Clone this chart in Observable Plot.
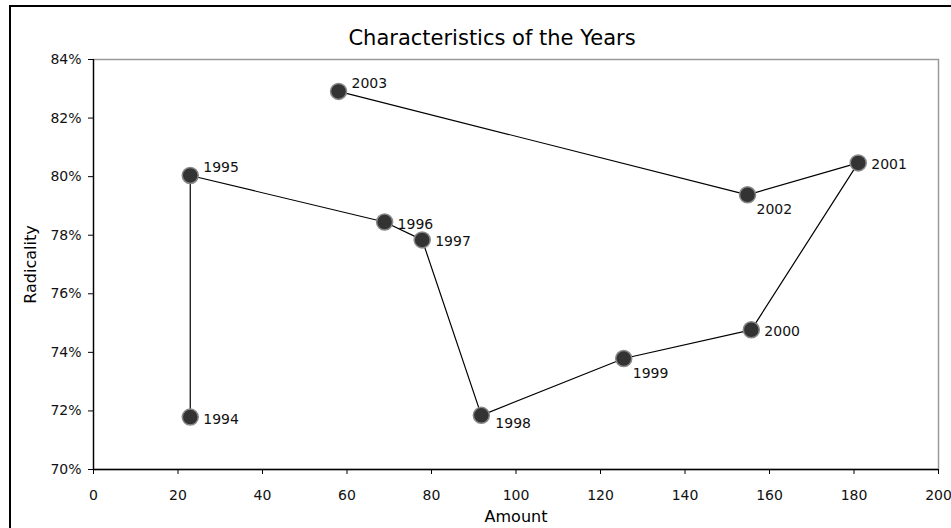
<!DOCTYPE html>
<html>
<head>
<meta charset="utf-8">
<script src="https://cdn.jsdelivr.net/npm/d3@7"></script>
<script src="https://cdn.jsdelivr.net/npm/@observablehq/plot@0.6"></script>
<style>
  html, body { margin: 0; padding: 0; background: #fff; overflow: hidden; }
  #wrap { position: relative; width: 951px; height: 528px; }
  #border { position: absolute; left: 9px; top: 5px; width: 1000px; height: 600px; border: 2px solid #000; box-sizing: border-box; }
  #chart { position: absolute; left: 0; top: 0; }
</style>
</head>
<body>
<div id="wrap"><div id="border"></div><div id="chart"></div></div>
<script>
const years = [1994, 1995, 1996, 1997, 1998, 1999, 2000, 2001, 2002, 2003];
const amount = [22.9, 22.9, 68.9, 77.8, 91.8, 125.5, 155.7, 181.0, 154.8, 58.0];
const radicality = [0.7179, 0.8004, 0.7845, 0.7784, 0.7185, 0.7379, 0.7477, 0.8047, 0.7938, 0.8291];
const xTicks = [0, 20, 40, 60, 80, 100, 120, 140, 160, 180, 200];
const yTicks = [0.70, 0.72, 0.74, 0.76, 0.78, 0.80, 0.82, 0.84];
const title = "Characteristics of the Years";
const xLabel = "Amount";
const yLabel = "Radicality";

const data = years.map((y, i) => ({year: y, amount: amount[i], rad: radicality[i]}));

const above = new Set([1995, 2003]);
const belowRight = new Set([1999, 2002]);
const lowRight = new Set([1998]);
const rightSide = data.filter(d => !above.has(d.year) && !belowRight.has(d.year) && !lowRight.has(d.year));

const font = "'DejaVu Sans', sans-serif";
const lab = (arr, dx, dy) => Plot.text(arr, {x: "amount", y: "rad", text: d => String(d.year), textAnchor: "start", dx, dy, fontSize: 14, fill: "#111"});

const chart = Plot.plot({
  width: 951,
  height: 528,
  marginLeft: 93,
  marginRight: 13,
  marginTop: 59,
  marginBottom: 59,
  style: {fontFamily: font, fontSize: "14px", color: "#111", background: "transparent"},
  x: {domain: [0, 200], label: null},
  y: {domain: [0.70, 0.84], label: null},
  marks: [
    Plot.frame({stroke: "#9a9a9a", strokeWidth: 1.5}),
    Plot.axisX({ticks: xTicks, tickSize: 5, tickPadding: 16, fontSize: 14, label: null, stroke: "#000"}),
    Plot.axisY({ticks: yTicks, tickFormat: d3.format(".0%"), tickSize: 5, tickPadding: 7, fontSize: 14, label: null, stroke: "#000"}),
    Plot.ruleX([0], {stroke: "#000", strokeWidth: 1.3}),
    Plot.ruleY([0.70], {stroke: "#000", strokeWidth: 1.3}),
    Plot.line(data, {x: "amount", y: "rad", stroke: "#000", strokeWidth: 1.2}),
    Plot.dot(data, {x: "amount", y: "rad", r: 8, fill: "#333", stroke: "#888", strokeWidth: 1.5}),
    lab(rightSide, 13, 2),
    lab(data.filter(d => above.has(d.year)), 13, -8),
    lab(data.filter(d => belowRight.has(d.year)), 9, 15),
    lab(data.filter(d => lowRight.has(d.year)), 14, 8),
    Plot.text([title], {frameAnchor: "top", dx: -24, dy: -29, fontSize: 21, fill: "#000"}),
    Plot.text([xLabel], {frameAnchor: "bottom", dy: 52, fontSize: 16, fill: "#000"}),
    Plot.text([yLabel], {frameAnchor: "left", textAnchor: "middle", dx: -63, rotate: -90, fontSize: 16, fill: "#000"})
  ]
});
document.getElementById("chart").appendChild(chart);
</script>
</body>
</html>
